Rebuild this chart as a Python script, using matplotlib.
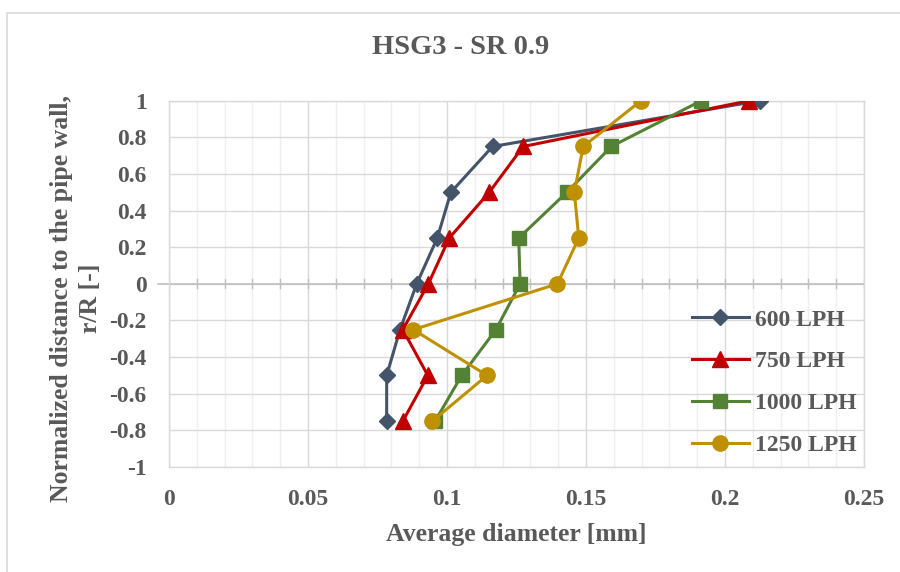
import matplotlib
matplotlib.use("Agg")
import matplotlib.pyplot as plt
from matplotlib.patches import Rectangle
from matplotlib.ticker import MultipleLocator

# r/R positions shared by all series
positions = [1.0, 0.75, 0.5, 0.25, 0.0, -0.25, -0.5, -0.75]

# average diameter [mm] for each flow rate
d_600 = [0.2126, 0.1164, 0.1014, 0.0965, 0.0891, 0.0831, 0.0783, 0.0783]
d_750 = [0.2087, 0.1274, 0.1152, 0.1008, 0.0933, 0.0841, 0.0931, 0.0841]
d_1000 = [0.1915, 0.1591, 0.1431, 0.1258, 0.1263, 0.1176, 0.1053, 0.0957]
d_1250 = [0.1698, 0.1490, 0.1458, 0.1474, 0.1397, 0.0879, 0.1144, 0.0947]

series_labels = ["600 LPH", "750 LPH", "1000 LPH", "1250 LPH"]
x_ticks = [0, 0.05, 0.1, 0.15, 0.2, 0.25]
x_tick_labels = ["0", "0.05", "0.1", "0.15", "0.2", "0.25"]
y_ticks = [1, 0.8, 0.6, 0.4, 0.2, 0, -0.2, -0.4, -0.6, -0.8, -1]
y_tick_labels = ["1", "0.8", "0.6", "0.4", "0.2", "0", "-0.2", "-0.4", "-0.6", "-0.8", "-1"]

title = "HSG3 - SR 0.9"
x_label = "Average diameter [mm]"
y_label = "Normalized distance to the pipe wall,\nr/R [-]"

colors = ["#44546A", "#C00000", "#548235", "#BF9000"]
markers = ["D", "^", "s", "o"]
marker_sizes = [8.5, 11, 10, 11]

TEXT = "#595959"
plt.rcParams["font.family"] = ["Liberation Serif", "DejaVu Serif"]
plt.rcParams["font.weight"] = "bold"

W, H = 900, 572
fig = plt.figure(figsize=(W / 100, H / 100), dpi=100)

# chart border
fig.patches.append(Rectangle((7 / W, -0.1), 1.2, 1 - 13 / H + 0.1,
                             transform=fig.transFigure, fill=False,
                             edgecolor="#D9D9D9", linewidth=1.2))

ax = fig.add_axes([169 / W, 1 - 467 / H, (864 - 169) / W, (467 - 100.7) / H])
ax.set_xlim(0, 0.25)
ax.set_ylim(-1, 1)

# grid
ax.xaxis.set_minor_locator(MultipleLocator(0.01))
ax.grid(which="minor", axis="x", color="#EFEFEF", linewidth=1.0, zorder=0)
ax.grid(which="major", axis="both", color="#D9D9D9", linewidth=1.0, zorder=0)
ax.set_axisbelow(True)

for s in ax.spines.values():
    s.set_color("#D9D9D9")
    s.set_linewidth(1.0)

# horizontal axis through r/R = 0 with crossing minor ticks
ax.axhline(0, color="#BFBFBF", linewidth=1.2, zorder=1)
for xv in [i * 0.01 for i in range(0, 26)]:
    ax.plot([xv, xv], [-0.025, 0.025], color="#BFBFBF", linewidth=1.0, zorder=1)
ax.plot([-0.004, 0], [0, 0], color="#BFBFBF", linewidth=1.2, zorder=1, clip_on=False)

series = [d_600, d_750, d_1000, d_1250]
for vals, lab, c, m, ms in zip(series, series_labels, colors, markers, marker_sizes):
    ax.plot(vals, positions, color=c, marker=m, markersize=ms, linewidth=2.2,
            markerfacecolor=c, markeredgecolor=c, label=lab, zorder=3)

ax.set_xticks(x_ticks)
ax.set_xticklabels(x_tick_labels)
ax.set_yticks(y_ticks)
ax.set_yticklabels(y_tick_labels)
ax.tick_params(which="both", length=0, colors=TEXT, labelsize=17)
ax.tick_params(axis="x", pad=16)
ax.tick_params(axis="y", pad=16)

fig.text(461 / W, 1 - 48 / H, title, ha="center", va="center",
         fontsize=20.5, fontweight="bold", color=TEXT)
fig.text(516 / W, 1 - 534 / H, x_label, ha="center", va="center",
         fontsize=18.5, fontweight="bold", color=TEXT)
fig.text(76 / W, 1 - 298 / H, y_label, ha="center", va="center", rotation=90,
         multialignment="center", linespacing=1.3,
         fontsize=18.5, fontweight="bold", color=TEXT)

leg = ax.legend(loc="upper left", bbox_to_anchor=((692 - 169) / (864 - 169), (467 - 309) / (467 - 100.7)),
                frameon=False, fontsize=17, handlelength=2.4, handletextpad=0.25,
                labelspacing=0.86, borderaxespad=0, borderpad=0)
for t in leg.get_texts():
    t.set_color(TEXT)

fig.savefig("out.png", dpi=100)
